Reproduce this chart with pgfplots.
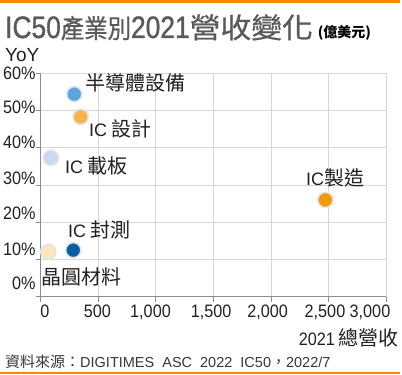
\documentclass[border=0pt]{standalone}
\usepackage{pgfplots}
\pgfplotsset{compat=1.18}
\usepackage{fontspec}
\setmainfont{Liberation Sans}
\newfontfamily\cjk{Noto Sans CJK TC}
\newfontfamily\narrow[FakeStretch=0.9]{Liberation Sans}
\newfontfamily\titlelat[FakeStretch=0.85,FakeBold=1]{Liberation Sans}
\newfontfamily\cjknarrow[FakeStretch=0.9,FakeBold=0.8]{Noto Sans CJK TC}
\newfontfamily\cjkwide[FakeStretch=1.1,FakeBold=0.8]{Noto Sans CJK TC}
\newcommand\fs[1]{\fontsize{#1bp}{#1bp}\selectfont}

\definecolor{brandorange}{RGB}{240,140,0}
\definecolor{titlegray}{RGB}{90,90,90}
\definecolor{gridgray}{RGB}{215,215,215}
\definecolor{axgray}{RGB}{140,140,140}
\definecolor{ringgray}{RGB}{228,228,228}
\definecolor{txt}{RGB}{35,31,32}
\definecolor{cEquip}{RGB}{91,164,222}
\definecolor{cDesign}{RGB}{249,179,71}
\definecolor{cSubstr}{RGB}{201,217,241}
\definecolor{cTest}{RGB}{11,92,165}
\definecolor{cMat}{RGB}{253,229,190}
\definecolor{cFab}{RGB}{243,154,0}

\begin{document}
\begin{tikzpicture}
\path[use as bounding box] (0,0) rectangle (402bp,375bp);
% brand bars
\fill[brandorange] (0,372bp) rectangle (400bp,375bp);
\fill[brandorange] (0,1bp) rectangle (400bp,3bp);

% title
\node[anchor=base west, inner sep=0pt, text=titlegray] at (5bp,337bp)
  {\titlelat\fs{31}IC50\cjknarrow\fs{26}產業別\titlelat\fs{31}2021\cjkwide\fs{28}營收變化\hspace{5bp}{\color{black}\cjk\fs{14}\bfseries(億美元)}};

\node[anchor=base west, inner sep=0pt, text=txt] at (5bp,313bp) {\fs{19}YoY};

\begin{axis}[
  at={(40.7bp,78.3bp)}, anchor=south west, scale only axis,
  width=345.3bp, height=223.4bp,
  xmin=0, xmax=3000, ymin=0, ymax=60,
  xtick={0,500,...,3000}, ytick={0,10,...,60},
  xticklabels={}, yticklabels={},
  grid=major, grid style={draw=gridgray, line width=0.8bp},
  axis x line*=bottom, axis y line*=left,
  axis line style={draw=axgray, line width=1bp},
  tick style={draw=axgray, line width=0.8bp},
  tick align=outside, major tick length=5bp,
  extra x ticks={37,493,954,1480,1971,2470,2861},
  extra x tick labels={0,500,1{,}000,1{,}500,2{,}000,2{,}500,3{,}000},
  extra x tick style={grid=none, major tick length=0pt},
  extra y ticks={3.57,12.84,22.48,31.9,41.4,50.82,60},
  extra y tick labels={0\%,10\%,20\%,30\%,40\%,50\%,60\%},
  extra y tick style={grid=none, major tick length=0pt},
  xticklabel style={font=\narrow\fs{18}, text=txt, inner sep=0pt, anchor=north, yshift=-8bp},
  yticklabel style={font=\narrow\fs{18}, text=txt, inner sep=0pt, anchor=east, xshift=-5bp},
  clip=false,
]
% closing grid lines along the top and right edges
\draw[gridgray, line width=0.8bp] (axis cs:0,60) -- (axis cs:3000,60) -- (axis cs:3000,0);

% one circle per segment: (2021 revenue, YoY %)
\addplot[only marks, mark=*, mark size=7.6bp, mark options={fill=cEquip, draw=ringgray, line width=1.6bp}] coordinates {(292,54.4)};
\addplot[only marks, mark=*, mark size=7.6bp, mark options={fill=cDesign, draw=ringgray, line width=1.6bp}] coordinates {(347,48.3)};
\addplot[only marks, mark=*, mark size=7.6bp, mark options={fill=cSubstr, draw=ringgray, line width=1.6bp}] coordinates {(89,37.3)};
\addplot[only marks, mark=*, mark size=7.6bp, mark options={fill=cTest, draw=ringgray, line width=1.6bp}] coordinates {(283,12.5)};
\addplot[only marks, mark=*, mark size=7.6bp, mark options={fill=cMat, draw=ringgray, line width=1.6bp}] coordinates {(66,12.1)};
\addplot[only marks, mark=*, mark size=7.6bp, mark options={fill=cFab, draw=ringgray, line width=1.6bp}] coordinates {(2473,26.0)};

\begin{scope}[every node/.style={anchor=west, inner sep=0pt, text=txt}]
\node at (axis cs:385,57.4) {\cjk\fs{20}半導體設備};
\node at (axis cs:420,45.0) {\fs{18}IC\hspace{4bp}\cjk\fs{20}設計};
\node at (axis cs:211,35.1) {\fs{18}IC\hspace{4bp}\cjk\fs{20}載板};
\node at (axis cs:237,17.9) {\fs{18}IC\hspace{4bp}\cjk\fs{20}封測};
\node at (axis cs:3,5.2) {\cjk\fs{20}晶圓材料};
\node at (axis cs:2305,31.9) {\fs{18}IC\cjk\fs{20}製造};
\end{scope}
\end{axis}

\node[anchor=base east, inner sep=0pt, text=txt] at (399bp,30bp)
  {\narrow\fs{18}2021\hspace{4bp}\cjk\fs{20}總營收};

% source line
\node[anchor=base west, inner sep=0pt, text=txt!90] at (5bp,8bp)
  {\cjk\fs{15}資料來源：\rmfamily\fs{14.5}DIGITIMES\hspace{4bp} ASC\hspace{4bp} 2022\hspace{4bp} IC50\cjk\fs{15}，\rmfamily\fs{14.5}2022/7};
\end{tikzpicture}
\end{document}
